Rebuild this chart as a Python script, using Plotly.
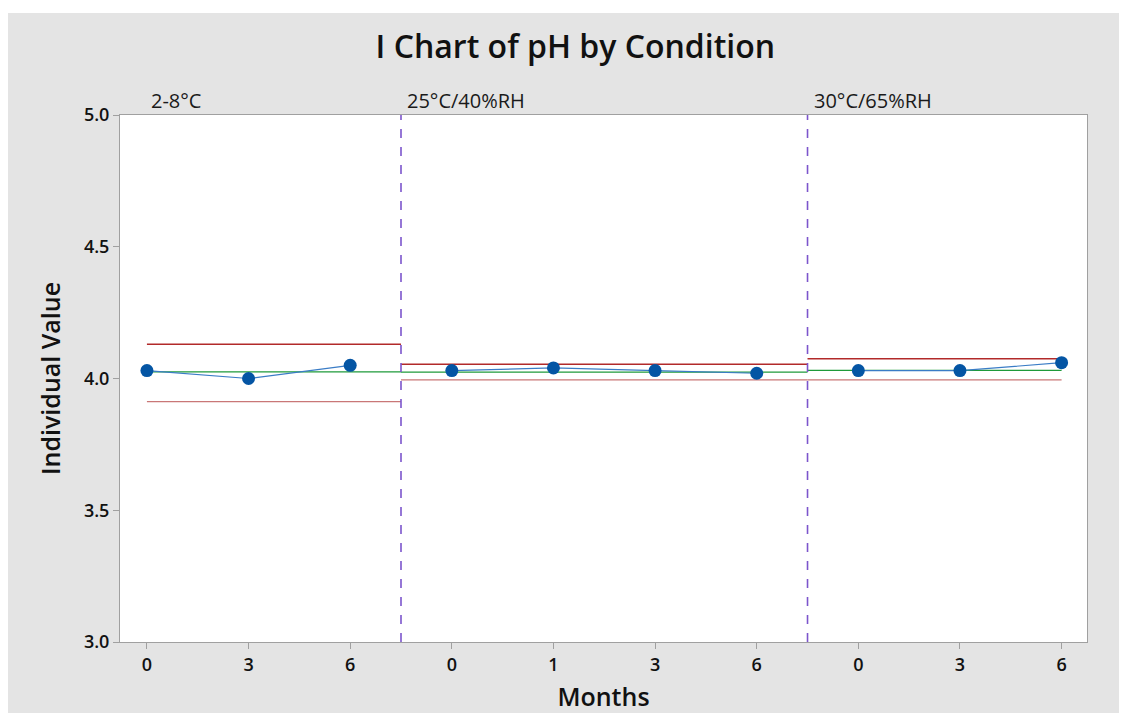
import plotly.graph_objects as go

# ---- data ----
month_labels = ["0", "3", "6", "0", "1", "3", "6", "0", "3", "6"]
stage_of_point = ["2-8°C"] * 3 + ["25°C/40%RH"] * 4 + ["30°C/65%RH"] * 3
ph_values = [4.03, 4.00, 4.05, 4.03, 4.04, 4.03, 4.02, 4.03, 4.03, 4.06]

stage_names = ["2-8°C", "25°C/40%RH", "30°C/65%RH"]
stage_cl = [4.025, 4.024, 4.031]
stage_ucl = [4.130, 4.054, 4.075]
stage_lcl = [3.912, 3.995, 3.995]

y_ticks = [3.0, 3.5, 4.0, 4.5, 5.0]

# ---- styling ----
FONT = "Open Sans"
BG_GRAY = "#E4E4E4"
MARKER_BLUE = "#0455A4"
LINE_BLUE = "#3A7CC6"
CL_GREEN = "#1E9A3A"
UCL_RED = "#B22A2A"
LCL_RED = "#C97777"
DIV_PURPLE = "#7C55CC"
AXIS_GRAY = "#A0A0A0"

idx = list(range(1, len(ph_values) + 1))

stage_idx = {s: [i for i, st in zip(idx, stage_of_point) if st == s] for s in stage_names}
boundaries = [stage_idx[s][-1] + 0.5 for s in stage_names[:-1]]

fig = go.Figure()

for k, s in enumerate(stage_names):
    pts = stage_idx[s]
    x0 = pts[0] if k == 0 else boundaries[k - 1]
    x1 = boundaries[k] if k < len(boundaries) else pts[-1]
    fig.add_trace(go.Scatter(x=[x0, x1], y=[stage_ucl[k]] * 2, mode="lines",
                             line=dict(color=UCL_RED, width=1.3), hoverinfo="skip", showlegend=False))
    fig.add_trace(go.Scatter(x=[x0, x1], y=[stage_lcl[k]] * 2, mode="lines",
                             line=dict(color=LCL_RED, width=1.3), hoverinfo="skip", showlegend=False))
    fig.add_trace(go.Scatter(x=[x0, x1], y=[stage_cl[k]] * 2, mode="lines",
                             line=dict(color=CL_GREEN, width=1.3), hoverinfo="skip", showlegend=False))

for s in stage_names:
    pts = stage_idx[s]
    fig.add_trace(go.Scatter(
        x=pts, y=[ph_values[i - 1] for i in pts], mode="lines+markers",
        line=dict(color=LINE_BLUE, width=1.2),
        marker=dict(color=MARKER_BLUE, size=13),
        showlegend=False, name=s))

shapes = [
    dict(type="rect", xref="paper", yref="paper", x0=-0.1169, x1=1.0414, y0=-0.1347, y1=1.1935,
         fillcolor=BG_GRAY, line=dict(width=0), layer="below"),
    dict(type="line", xref="paper", yref="paper", x0=-0.1169, x1=-0.1169, y0=-0.1347, y1=1.1935,
         line=dict(color="#C8C8C8", width=1.5), layer="below"),
    dict(type="rect", xref="paper", yref="paper", x0=0, x1=1, y0=0, y1=1,
         fillcolor="white", line=dict(width=0), layer="below"),
]
for b in boundaries:
    shapes.append(dict(type="line", xref="x", yref="paper", x0=b, x1=b, y0=0, y1=1,
                       line=dict(color=DIV_PURPLE, width=1.6, dash="dash"), layer="above"))

annotations = []
for k, s in enumerate(stage_names):
    xpos = stage_idx[s][0] if k == 0 else boundaries[k - 1]
    annotations.append(dict(x=xpos, y=1, xref="x", yref="paper", text=s, showarrow=False,
                            xanchor="left", yanchor="bottom", xshift=2 if k == 0 else 4, yshift=-1,
                            font=dict(family=FONT, size=20, color="#1a1a1a")))

fig.update_layout(
    width=1119, height=705,
    margin=dict(l=112, r=40, t=107, b=71, autoexpand=False),
    paper_bgcolor="white", plot_bgcolor="white",
    title=dict(text="I Chart of pH by Condition", x=0.507, xanchor="center",
               y=0.945, yanchor="middle",
               font=dict(family=FONT, size=32, color="#111111", weight=600)),
    shapes=shapes, annotations=annotations,
    xaxis=dict(range=[0.735, 10.25], tickvals=idx, ticktext=month_labels, automargin=False,
               showgrid=False, zeroline=False, showline=True, linecolor=AXIS_GRAY, linewidth=1,
               mirror=True, ticks="outside", ticklen=6, tickcolor=AXIS_GRAY,
               tickfont=dict(family=FONT, size=18, color="#111111", weight=600),
               title=dict(text="Months", font=dict(family=FONT, size=25, color="#111111", weight=600),
                          standoff=17)),
    yaxis=dict(range=[3.0, 5.0], tickvals=y_ticks, ticktext=[f"{v:.1f}" for v in y_ticks], automargin=False,
               showgrid=False, zeroline=False, showline=True, linecolor=AXIS_GRAY, linewidth=1,
               mirror=True, ticks="outside", ticklen=6, tickcolor=AXIS_GRAY,
               tickfont=dict(family=FONT, size=18, color="#111111", weight=600),
               title=dict(text="Individual Value", font=dict(family=FONT, size=25, color="#111111", weight=600),
                          standoff=16)),
)

fig.write_html("out.html")
